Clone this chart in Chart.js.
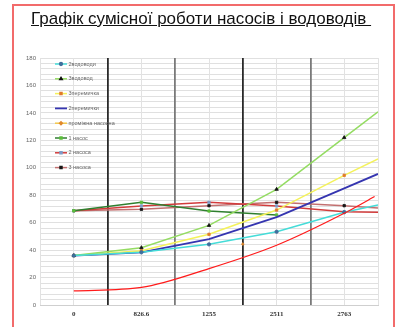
<!DOCTYPE html>
<html>
<head>
<meta charset="utf-8">
<script src="https://cdn.jsdelivr.net/npm/chart.js@4"></script>
<style>
html,body{margin:0;padding:0;background:#fff;}
#wrap{position:relative;width:397px;height:327px;overflow:hidden;}
#frame{position:absolute;left:12px;top:4px;width:383px;height:360px;border:2px solid #f26b6b;box-sizing:border-box;}
#title{position:absolute;left:31px;top:9px;font:17px "Liberation Sans",Arial,sans-serif;color:#111;text-decoration:underline;white-space:pre;}
#chart{position:absolute;left:0;top:0;}
</style>
</head>
<body>
<div id="wrap">
  <div id="frame"></div>
  <canvas id="chart" width="397" height="327"></canvas>
  <div id="title">Графік сумісної роботи насосів і водоводів </div>
</div>
<script>
// витрата (підписи осі X) та позиції точок на осі
const xLabels=['0','826.6','1255','2511','2763'];
const xPos=[0,1,2,3,4,4.5];

// напір, м
const twoMains   =[36,38.4,44.2,53.4,67.6,72.9];
const threeMains =[36,41.8,58,84.3,122,140.7];
const threeJumper=[36,39.5,51.5,69.2,94.5,106.4];
const twoJumpers =[36,38.4,48,64,85,95.5];
const midStation =[44.4];
const midStationX=[2.5];
const pump1      =[68.7,74.8,68.5,65.6];
const pump2      =[68.7,72.2,74.8,72.2,68,67.6];
const pump3      =[68.7,69.7,72.4,74.8,72.4,70.6];

// характеристика мережі
const systemX    =[0,1,2,3,4,4.45];
const systemCurve=[10.3,12.8,26.5,43.5,66.8,79];

const pts=(vals,xs=xPos)=>vals.map((y,i)=>({x:xs[i],y}));

function series(label,vals,line,marker,style,extra){
  return Object.assign({
    label,data:pts(vals),borderColor:line,backgroundColor:marker,
    pointBackgroundColor:marker,pointBorderColor:marker,pointStyle:style,
    pointRadius:c=>c.dataIndex<5?1.7:0,pointBorderWidth:0.8,borderWidth:1.5,tension:0
  },extra||{});
}

const datasets=[
  series('2водоводи',twoMains,'#45dcd8','#3f6f9c','circle'),
  series('3водовод',threeMains,'#94dc62','#111','triangle',{pointRadius:c=>c.dataIndex<5?2:0}),
  series('3перемичка',threeJumper,'#f4f25a','#e07a2c','rect'),
  series('2перемички',twoJumpers,'#3535b0','#3535b0','line',{pointRadius:0,borderWidth:1.8}),
  series('проміжна насосна',midStation,'#f2c94c','#e0882c','rectRot',{data:pts(midStation,midStationX),pointRadius:1.4}),
  series('1 насос',pump1,'#2f7f2f','#5cbf3a','rect'),
  series('2 насоса',pump2,'#d23c3c','#7e9cc8','rect'),
  series('3 насоса',pump3,'#c27070','#151515','rect'),
  {data:pts(systemCurve,systemX),borderColor:'#ff1a1a',borderWidth:1.2,pointRadius:0,
   cubicInterpolationMode:'monotone',order:-1}
];

// легенда всередині області графіка, зліва зверху
const plotLegend={
  id:'plotLegend',
  afterDatasetsDraw(chart){
    const {ctx,chartArea}=chart;
    ctx.save();
    ctx.font='5.5px "Liberation Sans",Arial,sans-serif';
    ctx.textBaseline='middle';
    chart.data.datasets.forEach((ds,i)=>{
      if(!ds.label) return;
      const x=chartArea.left+15, y=chartArea.top+6+i*14.8;
      ctx.strokeStyle=ds.borderColor;
      ctx.lineWidth=ds.borderWidth;
      ctx.beginPath();ctx.moveTo(x,y);ctx.lineTo(x+12,y);ctx.stroke();
      if(ds.pointStyle!=='line'){
        ctx.fillStyle=ds.pointBackgroundColor;
        ctx.strokeStyle=ds.pointBorderColor;
        Chart.helpers.drawPoint(ctx,{pointStyle:ds.pointStyle,radius:1.4,rotation:0,borderWidth:0.6},x+6,y);
      }
      ctx.fillStyle='#666';
      ctx.fillText(ds.label,x+13.5,y);
    });
    ctx.restore();
  }
};

// межі між точками: темні та сірі вертикальні лінії
const dividerColor=v=>{
  if(Number.isInteger(v)||v<0||v>4) return '#e2e2e2';
  return (v===0.5||v===2.5)?'#2a2a2a':'#7a7a7a';
};

new Chart(document.getElementById('chart'),{
  type:'line',
  data:{datasets},
  options:{
    responsive:false,animation:false,devicePixelRatio:1,
    layout:{padding:{top:58,right:19,bottom:0,left:0}},
    plugins:{legend:{display:false},tooltip:{enabled:false}},
    scales:{
      y:{min:0,max:180,
        ticks:{stepSize:4,autoSkip:false,callback:v=>v%20===0?v:'',
          font:{family:'"Liberation Sans",Arial',size:6},color:'#666',padding:4},
        grid:{color:'#e0e0e0',drawTicks:false},border:{display:false},
        afterFit:s=>{s.width=40;}},
      x:{type:'linear',min:-0.5,max:4.5,
        ticks:{stepSize:0.5,autoSkip:false,maxRotation:0,
          callback:v=>Number.isInteger(v)?xLabels[v]:'',
          font:{family:'"Liberation Serif","Times New Roman"',size:7,weight:'bold'},color:'#333',padding:5},
        grid:{color:c=>dividerColor(c.tick.value),
          lineWidth:c=>{const v=c.tick.value;return (Number.isInteger(v)||v<0||v>4)?1:1.8;},
          drawTicks:false},
        border:{display:true,color:'#cfcfcf'},
        afterFit:s=>{s.height=22;}}
    }
  },
  plugins:[plotLegend]
});
</script>
</body>
</html>
